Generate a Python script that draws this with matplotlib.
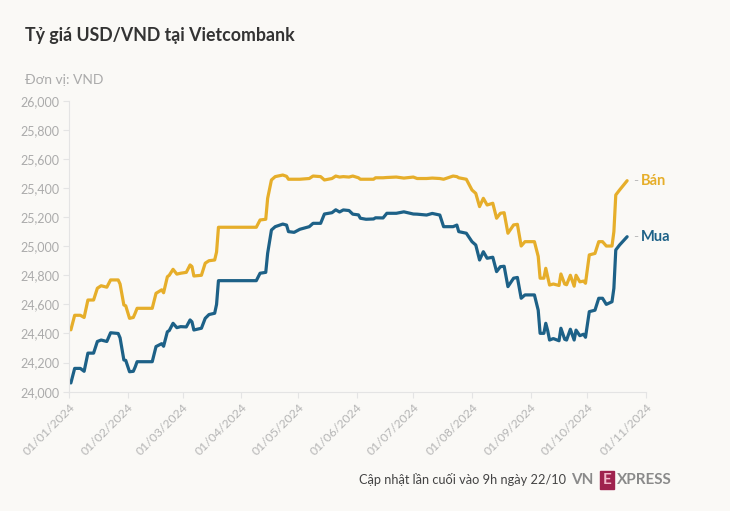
import matplotlib
matplotlib.use("Agg")
import matplotlib.pyplot as plt
import matplotlib.dates as mdates
from matplotlib.ticker import FuncFormatter, MultipleLocator
import pandas as pd

plt.rcParams['font.family'] = ['Lato', 'Noto Sans', 'DejaVu Sans']

dates = ["2024-01-02","2024-01-04","2024-01-07","2024-01-09","2024-01-11","2024-01-14","2024-01-16","2024-01-18",
         "2024-01-21","2024-01-23","2024-01-27","2024-01-28","2024-01-30","2024-01-31","2024-02-02","2024-02-04",
         "2024-02-05","2024-02-06","2024-02-14","2024-02-16","2024-02-19","2024-02-20","2024-02-22","2024-02-23",
         "2024-02-25","2024-02-27","2024-02-29","2024-03-03","2024-03-05","2024-03-06","2024-03-07","2024-03-11",
         "2024-03-13","2024-03-15","2024-03-18","2024-03-19","2024-03-20","2024-04-09","2024-04-11","2024-04-14",
         "2024-04-15","2024-04-17","2024-04-19","2024-04-23","2024-04-25","2024-04-26","2024-04-29","2024-05-02",
         "2024-05-07","2024-05-09","2024-05-13","2024-05-15","2024-05-19","2024-05-21","2024-05-23","2024-05-25",
         "2024-05-28","2024-05-30","2024-06-02","2024-06-03","2024-06-06","2024-06-10","2024-06-11","2024-06-15",
         "2024-06-17","2024-06-22","2024-06-26","2024-07-01","2024-07-03","2024-07-08","2024-07-11","2024-07-15",
         "2024-07-17","2024-07-22","2024-07-24","2024-07-25","2024-07-29","2024-08-01","2024-08-03","2024-08-05",
         "2024-08-07","2024-08-09","2024-08-12","2024-08-14","2024-08-16","2024-08-18","2024-08-20","2024-08-23",
         "2024-08-25","2024-08-27","2024-08-29","2024-09-01","2024-09-03","2024-09-05","2024-09-06","2024-09-08",
         "2024-09-09","2024-09-10","2024-09-11","2024-09-13","2024-09-16","2024-09-17","2024-09-19","2024-09-20",
         "2024-09-22","2024-09-24","2024-09-25","2024-09-27","2024-09-29","2024-09-30","2024-10-02","2024-10-05",
         "2024-10-07","2024-10-09","2024-10-11","2024-10-14","2024-10-15","2024-10-16","2024-10-18","2024-10-22"]

mua = [24060,24160,24160,24140,24265,24265,24345,24355,
       24345,24405,24400,24370,24218,24215,24137,24140,
       24170,24206,24206,24310,24330,24312,24412,24420,
       24470,24440,24447,24445,24493,24480,24424,24436,
       24504,24530,24539,24600,24763,24763,24814,24820,
       24951,25111,25134,25152,25145,25100,25095,25116,
       25134,25157,25157,25221,25230,25250,25235,25249,
       25245,25220,25215,25192,25185,25187,25195,25194,
       25226,25226,25236,25221,25220,25214,25225,25214,
       25134,25134,25145,25100,25089,25031,25008,24905,
       24962,24917,24924,24825,24859,24862,24722,24780,
       24785,24642,24665,24665,24665,24560,24401,24401,
       24470,24420,24355,24365,24350,24436,24360,24355,
       24429,24355,24423,24385,24395,24374,24550,24560,
       24642,24642,24600,24618,24711,24974,25008,25065]

ban = [24425,24525,24525,24510,24630,24630,24711,24728,
       24718,24768,24768,24740,24596,24590,24504,24510,
       24540,24573,24573,24676,24700,24680,24790,24800,
       24841,24808,24814,24820,24871,24860,24795,24800,
       24883,24900,24905,24960,25130,25130,25180,25185,
       25329,25455,25478,25489,25480,25460,25460,25460,
       25465,25482,25478,25455,25465,25482,25475,25478,
       25475,25482,25470,25460,25460,25460,25470,25470,
       25472,25475,25468,25475,25465,25465,25468,25465,
       25460,25482,25478,25470,25460,25386,25363,25272,
       25329,25283,25295,25192,25226,25230,25089,25146,
       25150,25001,25031,25031,25031,24930,24780,24780,
       24848,24790,24733,24740,24730,24809,24740,24735,
       24800,24725,24800,24755,24760,24745,24940,24950,
       25031,25031,25001,25001,25100,25352,25386,25450]

series_names = ["Bán", "Mua"]
x_ticks = ["2024-01-01","2024-02-01","2024-03-01","2024-04-01","2024-05-01","2024-06-01",
           "2024-07-01","2024-08-01","2024-09-01","2024-10-01","2024-11-01"]

BG = "#FAF9F6"
GOLD = "#E6AE2A"
BLUE = "#1D6187"
GRAY = "#ABABAB"

x = pd.to_datetime(dates)
fig = plt.figure(figsize=(7.3, 5.11), dpi=100, facecolor=BG)
ax = fig.add_axes([0.0945, 0.2335, 0.7905, 0.5695], facecolor=BG)

ax.plot(x, ban, color=GOLD, lw=2.3, solid_joinstyle='round', solid_capstyle='round')
ax.plot(x, mua, color=BLUE, lw=2.3, solid_joinstyle='round', solid_capstyle='round')

ax.set_ylim(24000, 26000)
ax.set_xlim(pd.Timestamp(x_ticks[0]), pd.Timestamp(x_ticks[-1]))
ax.yaxis.set_major_locator(MultipleLocator(200))
ax.yaxis.set_major_formatter(FuncFormatter(lambda v, p: f"{int(v):,}"))
ax.set_xticks(pd.to_datetime(x_ticks))
ax.set_xticklabels([pd.Timestamp(t).strftime("%d/%m/%Y") for t in x_ticks],
                   rotation=45, ha='right', rotation_mode='anchor')

for s in ['top', 'right']:
    ax.spines[s].set_visible(False)
for s in ['left', 'bottom']:
    ax.spines[s].set_color("#E4E4E4")
    ax.spines[s].set_linewidth(0.8)
ax.tick_params(axis='y', colors="#E4E4E4", labelcolor=GRAY, labelsize=9, length=4, width=0.8, pad=3)
ax.tick_params(axis='x', colors="#E4E4E4", labelcolor="#B5B5B5", labelsize=8.8, length=4, width=0.8, pad=3)

# end labels
for name, vals, col in [(series_names[0], ban, GOLD), (series_names[1], mua, BLUE)]:
    ax.annotate("-", xy=(x[-1], vals[-1]), xytext=(4, 0), textcoords='offset points',
                color="#BBBBBB", fontsize=10, va='center', ha='left', annotation_clip=False)
    ax.annotate(name, xy=(x[-1], vals[-1]), xytext=(10, 0), textcoords='offset points',
                color=col, fontsize=10.5, fontweight='bold', va='center', ha='left', annotation_clip=False)

fig.text(25/730, 1 - 35/511, "Tỷ giá USD/VND tại Vietcombank", fontsize=12.8, fontweight='bold',
         color="#333333", va='center', ha='left')
fig.text(25/730, 1 - 80/511, "Đơn vị: VND", fontsize=10, color=GRAY, va='center', ha='left')

fig.text(566/730, 1 - 480/511, "Cập nhật lần cuối vào 9h ngày 22/10", fontsize=9.2, color="#444444",
         va='center', ha='right')
# logo
fig.text(571/730, 1 - 480/511, "VN", fontsize=11, color="#8A8A8A", fontweight='bold', va='center', ha='left')
fig.text(607/730, 1 - 480/511, "E", fontsize=11, color="#F2B9CB", fontweight='bold', va='center', ha='center',
         bbox=dict(boxstyle='square,pad=0.15', fc="#9F224E", ec="#9F224E"))
fig.text(617/730, 1 - 480/511, "XPRESS", fontsize=11, color="#8A8A8A", fontweight='bold', va='center', ha='left')

fig.savefig("out.png", dpi=100, facecolor=BG)
